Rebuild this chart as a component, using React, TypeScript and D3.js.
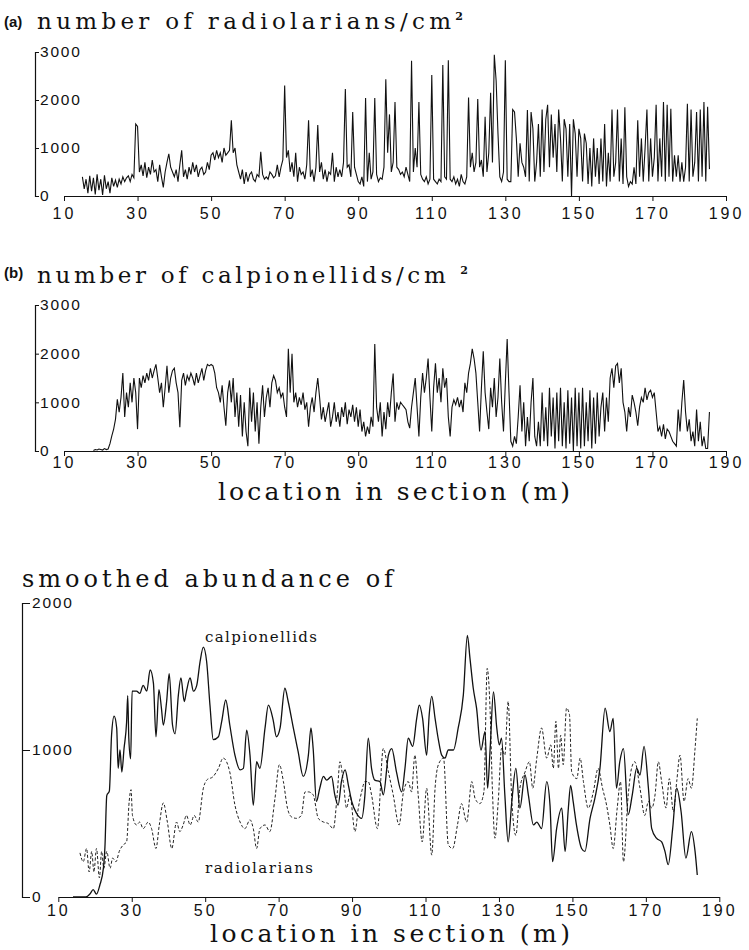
import React, { useEffect, useRef } from 'react'
import * as d3 from 'd3'

// location in section (m)
const locTicks = [10, 30, 50, 70, 90, 110, 130, 150, 170, 190]
const countTicks = [0, 1000, 2000, 3000]
const smoothTicks = [0, 1000, 2000]

// raw counts, one value every 0.5 m
const step = 0.5
const radStart = 15
const radCounts = [
  400,150,350,60,420,100,380,30,450,120,
  350,20,430,150,300,60,380,200,330,180,
  350,250,400,300,380,420,300,450,380,1500,
  1450,500,650,420,700,380,600,450,750,500,
  550,300,650,400,180,500,700,880,600,500,
  400,550,300,650,950,400,550,350,600,450,
  700,500,650,400,550,600,450,500,700,550,
  850,900,750,950,800,900,700,1000,850,900,
  950,1580,900,1000,650,500,350,550,250,500,
  300,450,500,350,300,450,400,920,450,350,
  400,350,500,450,380,420,650,400,600,750,
  2300,800,950,500,700,400,900,300,600,450,
  500,350,650,1580,400,550,300,600,1480,500,
  700,350,550,300,500,450,900,300,600,400,
  550,400,700,2230,600,650,400,1750,600,450,
  300,250,400,200,2040,300,900,350,500,2040,
  450,300,380,350,600,2430,900,1700,500,700,
  1960,600,550,450,500,400,600,450,300,2820,
  500,1000,600,1960,450,350,300,400,250,350,
  2520,350,300,250,350,300,2730,400,350,2830,
  350,300,400,250,350,200,450,300,250,400,
  2050,600,900,500,700,2020,600,750,400,1650,
  500,900,2150,700,2940,2400,1300,400,300,500,
  2830,350,300,300,1800,1750,1200,400,1100,700,
  600,400,1790,300,1750,1400,300,700,1500,400,
  1800,500,1600,1900,600,1700,800,1500,500,1800,
  1200,300,1600,1400,400,1500,0,1600,1300,400,
  1400,1200,300,1300,1100,250,1000,200,1200,400,
  1000,250,1200,300,1500,200,900,300,1800,400,
  700,1800,300,1200,250,1850,400,200,300,250,
  600,250,1580,400,1200,300,1000,1800,300,1200,
  400,800,1900,300,1200,400,1960,300,1900,400,
  1820,300,850,400,850,300,700,300,600,1920,
  300,1800,400,700,1750,300,1800,400,1960,300,
  1860,560,
]
const calStart = 18
const calCounts = [
  10,30,20,40,
  30,20,50,30,40,150,310,450,650,1060,
  800,1100,1600,700,1200,900,1400,1000,1500,1200,
  450,1500,1300,1550,1400,1600,1450,1700,1500,1650,
  1780,1500,1200,1400,900,1300,1750,1200,1500,1650,
  1700,1400,1200,490,1450,1600,1350,1550,1450,1600,
  1500,1350,1600,1400,1550,1700,1450,1650,1780,1750,
  1780,1750,1600,1300,1200,1000,1350,900,520,1200,
  1450,1000,1500,700,1200,500,1150,300,1000,400,
  100,1300,600,1200,400,1000,150,900,1350,700,
  1100,1300,900,1400,1550,1450,1200,1300,1100,1200,
  900,700,2100,1200,2000,1000,1200,900,1100,950,
  1200,850,1000,500,900,1100,800,1200,1500,1100,
  650,900,600,800,1000,500,700,1000,600,800,
  500,900,700,1000,550,850,700,950,600,900,
  500,850,400,600,300,500,350,700,500,2200,
  900,600,1000,300,800,450,1000,700,1200,1590,
  600,1000,850,1000,950,900,850,600,470,900,
  1200,1500,900,300,1100,1600,1200,1500,1900,1100,
  400,1300,1800,1200,1500,1000,1700,1300,1500,700,
  300,900,1050,950,1100,900,1050,800,1400,1200,
  1600,1800,2100,1900,1600,1000,400,1300,2050,1200,
  800,450,1300,900,1500,700,1100,1900,1000,400,
  1400,2300,1200,200,100,300,150,700,1350,400,
  1000,100,700,200,1000,1500,300,100,600,100,
  1200,200,900,100,1300,300,1100,50,1200,200,
  1300,100,1000,50,1250,150,1100,0,1300,100,
  1200,50,1300,100,1000,200,1250,50,1100,150,
  1200,300,900,1200,400,1100,600,1500,1700,1300,
  1750,1800,1400,1700,1000,800,400,900,700,1150,
  1000,800,520,900,1100,1000,1300,1050,1200,1250,
  1100,1200,800,400,500,300,550,250,450,400,
  300,200,150,100,850,400,1000,1460,800,400,
  650,200,400,100,850,200,600,100,300,50,
  50,800,
]

// smoothed abundance
const calLoc = [14,17.5,18.6,19.5,20.4,21.3,22.3,22.7,23.2,23.9,24.5,25.2,25.9,26.3,26.8,27.3,27.9,28.6,28.9,29.2,29.7,30.1,31.3,32.2,33.1,34.1,35,35.9,36.6,37.4,38.1,38.6,39.5,40.2,41.1,41.8,42.7,43.4,44.3,44.9,45.9,46.8,47.7,48.6,49.5,50.4,51.3,52.2,53.6,54.5,55.6,56.7,58.1,59.5,60.4,61.3,62.2,63.1,64,64.9,66.3,67.2,68.5,69.4,70.4,71.7,72.6,74,75.3,76.7,78.1,78.8,79.4,80.3,81.2,82.2,83.1,84.4,85.3,86.2,87.1,88.1,89,89.9,91.2,92.6,93.5,94.4,95.3,96.2,97.6,98.5,99.9,100.8,102.1,103.5,104.4,105.3,106.5,107.6,108.3,109.2,110.3,111,111.7,112.6,113.5,114.4,115.3,116.2,117.6,118.9,120.3,121.4,122.1,123,123.9,125.1,126.2,126.9,127.6,128.5,129.4,130.1,130.7,131.6,132.5,133.5,134.6,135.7,137.1,138,139.4,140.3,141.6,143,143.9,144.6,145.7,147.1,148,148.9,149.5,150.2,151.1,152.5,153.4,154.8,156.1,157.5,158.9,160.2,161.1,162,162.9,163.9,165.2,166.3,167.5,168.4,169.5,170.7,171.6,172.9,174.3,175.2,176.1,177.3,178.4,179.6,180.9,182.4,183.4,184]
const calVal = [0,0,20,50,20,80,200,340,690,720,1100,1230,1150,875,1000,850,1010,1190,1370,1080,940,1400,1400,1385,1440,1400,1545,1455,1090,1410,1280,1170,1330,1520,1170,1110,1375,1490,1330,1400,1490,1400,1440,1600,1700,1600,1305,1070,1090,1195,1340,1170,965,865,875,1135,965,625,920,875,1150,1305,1205,1090,1150,1420,1330,1150,990,820,965,1150,1010,650,740,820,795,820,695,625,785,865,760,650,570,535,695,1080,875,795,785,695,965,1010,850,715,875,1080,1025,1215,1305,1215,965,1240,1365,1215,1070,965,945,1000,1000,1150,1375,1780,1625,1420,1285,1000,1125,740,1010,1395,1150,1035,1080,695,375,650,875,605,830,695,490,510,465,785,625,240,465,605,310,605,760,650,490,330,310,535,670,875,1285,1125,1215,740,920,1010,560,695,875,830,1025,740,465,400,375,310,220,465,740,580,265,445,310,150]
const radLoc = [15.9,16.8,17.7,18.4,19.1,19.7,20.4,21.2,21.8,22.4,23.2,24.1,24.8,25.7,26.6,27.7,28.6,29.3,29.8,30.2,31.3,32.2,33.1,34.5,35.4,36.6,37.5,38.6,39.7,40.9,42.2,43.1,44,44.9,45.9,47,48.1,49.5,50.4,52.2,53.6,54.9,56.7,58.1,59.5,60.8,62.2,63.1,64,64.9,66.3,67.6,69,70.2,71.3,72.4,73.5,74.9,76.2,77.2,78.1,79.4,80.8,82.2,83.5,84.9,86,86.7,87.6,88.5,89.4,90.8,91.7,92.6,93.5,94.4,95.3,96.9,98.5,99.9,101.2,102.8,104,105.3,106.2,107.1,108,109.1,110.3,111.7,112.6,113.5,114.9,116.2,117.4,118.7,119.8,121.2,122.6,123.5,124.8,125.9,126.8,127.6,128.2,128.9,129.8,130.7,131.6,132.5,133.5,134.6,135.7,137.1,138.3,139.2,140.3,141.6,143,144.1,144.8,145.5,146.2,146.8,147.5,148.4,149.2,149.8,151.2,152.1,153,154.3,155.7,157,158.2,159.3,160.2,161.1,162.2,163.1,163.9,165.2,166.1,167,168.4,169.7,170.7,171.6,172.5,173.4,174.3,175.5,176.4,177.5,178.4,179.3,180.4,181.5,182.4,183.4,184]
const radVal = [300,240,330,170,310,170,330,130,310,195,310,195,265,240,310,355,375,650,730,555,490,510,465,510,465,330,490,640,510,330,510,445,490,555,490,555,510,740,795,820,875,945,850,625,510,465,525,465,330,465,490,445,670,900,785,605,545,535,555,715,715,695,535,510,500,465,715,920,785,605,695,445,605,715,785,785,695,465,1010,850,695,490,715,785,715,965,695,375,740,285,740,900,945,355,330,490,635,510,785,670,635,715,1555,1260,740,400,650,1010,965,1330,650,420,740,850,920,740,945,1150,945,1035,875,1195,875,1100,900,1285,1240,850,805,945,785,605,715,875,740,625,490,330,605,785,240,695,875,920,740,555,650,605,695,920,785,605,805,580,785,965,650,805,740,1010,1215]

const serif = "'DejaVu Serif', 'Liberation Serif', serif"
const sans = "'Liberation Sans', Arial, sans-serif"

const App = () => {
  const svgRef = useRef<SVGSVGElement>(null)

  useEffect(() => {
    const svg = d3.select(svgRef.current)
    svg.selectAll('*').remove()

    const styleAxis = (g: any, xLabels: boolean) => {
      g.select('.domain').attr('stroke', '#111').attr('stroke-width', 1.2)
      g.selectAll('.tick line').attr('stroke', '#111').attr('stroke-width', 1)
      g.selectAll('.tick text')
        .attr('fill', '#111')
        .style('font-family', sans)
        .style('font-size', xLabels ? '16px' : '15.5px')
        .style('letter-spacing', xLabels ? '3px' : '1.8px')
    }

    const title = (x: number, y: number, txt: string, sup: string, len: number, size: number) => {
      const t = svg.append('text')
        .attr('x', x).attr('y', y)
        .attr('textLength', len).attr('lengthAdjust', 'spacing')
        .style('font-family', serif).style('font-size', size + 'px')
        .attr('fill', '#111')
      t.append('tspan').text(txt)
      if (sup) t.append('tspan').attr('dy', -9).style('font-size', '11px').style('font-weight', 'bold').text(sup)
    }

    // raw count panels
    const countPanel = (data: number[], start: number, yZero: number, yTop: number, pad: number) => {
      const x = d3.scaleLinear().domain([10, 190]).range([64, 726])
      const y = d3.scaleLinear().domain([0, 3000]).range([yZero, yTop])
      const xAxis = d3.axisBottom(x).tickValues(locTicks).tickSize(5).tickSizeOuter(0).tickPadding(pad).tickFormat(d3.format('d'))
      const yAxis = d3.axisRight(y).tickValues(countTicks).tickSize(4).tickSizeOuter(4).tickPadding(1).tickFormat(d3.format('d'))
      styleAxis(svg.append('g').attr('transform', `translate(0,${yZero})`).call(xAxis), true)
      styleAxis(svg.append('g').attr('transform', 'translate(35,0)').call(yAxis), false)
      const line = d3.line<number>()
        .x((d, i) => x(start + i * step))
        .y(d => y(d))
      svg.append('path').datum(data)
        .attr('d', line)
        .attr('fill', 'none')
        .attr('stroke', '#111')
        .attr('stroke-width', 1.1)
    }

    countPanel(radCounts, radStart, 196, 52, 7)
    countPanel(calCounts, calStart, 451, 305, 1)

    svg.append('text').attr('x', 4).attr('y', 27).text('(a)')
      .style('font-family', sans).style('font-size', '15px').style('font-weight', 'bold').attr('fill', '#111')
    svg.append('text').attr('x', 4).attr('y', 278).text('(b)')
      .style('font-family', sans).style('font-size', '15px').style('font-weight', 'bold').attr('fill', '#111')
    title(37, 29, 'number of radiolarians/cm', '2', 426, 23)
    title(37, 283, 'number of calpionellids/cm ', '2', 431, 23)
    title(218, 500, 'location in section (m)', '', 352, 25)

    // smoothed panel
    const xc = d3.scaleLinear().domain([10, 190]).range([58.3, 719.3])
    const yc = d3.scaleLinear().domain([0, 2000]).range([897, 603])
    const xAxisC = d3.axisBottom(xc).tickValues(locTicks).tickSize(5).tickSizeOuter(0).tickPadding(3).tickFormat(d3.format('d'))
    const yAxisC = d3.axisRight(yc).tickValues(smoothTicks).tickSize(8).tickSizeOuter(8).tickPadding(2).tickFormat(d3.format('d'))
    styleAxis(svg.append('g').attr('transform', 'translate(0,897)').call(xAxisC), true)
    styleAxis(svg.append('g').attr('transform', 'translate(22,0)').call(yAxisC), false)

    const smooth = d3.line<number>()
      .x(d => xc(d))
      .curve(d3.curveMonotoneX)
    svg.append('path')
      .attr('d', smooth.y((d, i) => yc(radVal[i]))(radLoc))
      .attr('fill', 'none').attr('stroke', '#222').attr('stroke-width', 1)
      .attr('stroke-dasharray', '3,2')
    svg.append('path')
      .attr('d', smooth.y((d, i) => yc(calVal[i]))(calLoc))
      .attr('fill', 'none').attr('stroke', '#111').attr('stroke-width', 1.3)

    title(22, 587, 'smoothed abundance of', '', 371, 24)
    title(210, 942, 'location in section (m)', '', 360, 25)
    title(205, 642, 'calpionellids', '', 112, 15)
    title(205, 873, 'radiolarians', '', 108, 15)
  }, [])

  return (
    <svg ref={svgRef} width={749} height={950}
      style={{ position: 'absolute', left: 0, top: 0, background: '#fff' }} />
  )
}

export default App
